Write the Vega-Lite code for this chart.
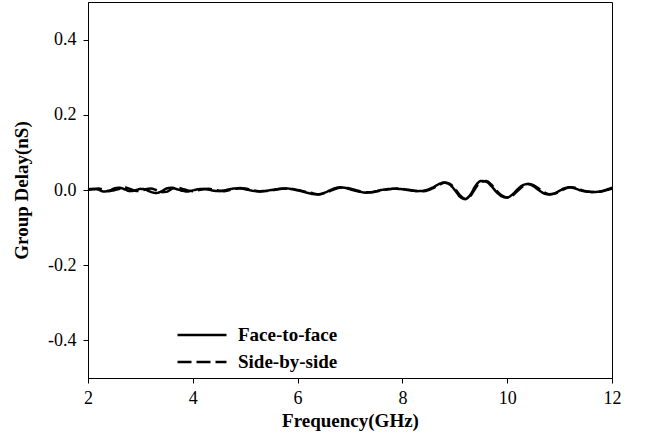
{
  "$schema": "https://vega.github.io/schema/vega-lite/v6.json",
  "autosize": {"type": "none"},
  "width": 524,
  "height": 376,
  "padding": {"left": 88, "top": 2, "right": 42, "bottom": 66},
  "background": "white",
  "config": {
    "view": {"stroke": "black", "strokeWidth": 1},
    "font": "Liberation Serif",
    "axis": {"grid": false, "domainColor": "black", "tickColor": "black", "domainWidth": 1, "tickWidth": 1, "tickSize": 5,
      "labelFont": "Liberation Serif", "labelFontSize": 18, "labelColor": "black",
      "titleFont": "Liberation Serif", "titleFontSize": 19, "titleFontWeight": "bold", "titleColor": "black"}
  },
  "data": {"values": [
    {"f":2.0,"s":"Face-to-face","d":0.002},{"f":2.1,"s":"Face-to-face","d":0.003},{"f":2.2,"s":"Face-to-face","d":0.001},{"f":2.3,"s":"Face-to-face","d":-0.004},{"f":2.4,"s":"Face-to-face","d":-0.002},
    {"f":2.5,"s":"Face-to-face","d":0.004},{"f":2.6,"s":"Face-to-face","d":0.006},{"f":2.7,"s":"Face-to-face","d":0.002},{"f":2.8,"s":"Face-to-face","d":-0.003},{"f":2.9,"s":"Face-to-face","d":-0.001},
    {"f":3.0,"s":"Face-to-face","d":0.003},{"f":3.1,"s":"Face-to-face","d":0.001},{"f":3.2,"s":"Face-to-face","d":-0.005},{"f":3.3,"s":"Face-to-face","d":-0.008},{"f":3.4,"s":"Face-to-face","d":-0.004},
    {"f":3.5,"s":"Face-to-face","d":0.004},{"f":3.6,"s":"Face-to-face","d":0.006},{"f":3.7,"s":"Face-to-face","d":0.002},{"f":3.8,"s":"Face-to-face","d":-0.002},{"f":3.9,"s":"Face-to-face","d":-0.004},
    {"f":4.0,"s":"Face-to-face","d":-0.001},{"f":4.1,"s":"Face-to-face","d":0.002},{"f":4.2,"s":"Face-to-face","d":0.003},{"f":4.3,"s":"Face-to-face","d":0.001},{"f":4.4,"s":"Face-to-face","d":-0.002},
    {"f":4.5,"s":"Face-to-face","d":-0.003},{"f":4.6,"s":"Face-to-face","d":-0.001},{"f":4.7,"s":"Face-to-face","d":0.002},{"f":4.8,"s":"Face-to-face","d":0.004},{"f":4.9,"s":"Face-to-face","d":0.004},
    {"f":5.0,"s":"Face-to-face","d":0.002},{"f":5.1,"s":"Face-to-face","d":-0.001},{"f":5.2,"s":"Face-to-face","d":-0.003},{"f":5.3,"s":"Face-to-face","d":-0.003},{"f":5.4,"s":"Face-to-face","d":-0.002},
    {"f":5.5,"s":"Face-to-face","d":0.000},{"f":5.6,"s":"Face-to-face","d":0.002},{"f":5.7,"s":"Face-to-face","d":0.004},{"f":5.8,"s":"Face-to-face","d":0.004},{"f":5.9,"s":"Face-to-face","d":0.002},
    {"f":6.0,"s":"Face-to-face","d":-0.001},{"f":6.1,"s":"Face-to-face","d":-0.004},{"f":6.2,"s":"Face-to-face","d":-0.008},{"f":6.3,"s":"Face-to-face","d":-0.011},{"f":6.4,"s":"Face-to-face","d":-0.012},
    {"f":6.5,"s":"Face-to-face","d":-0.008},{"f":6.6,"s":"Face-to-face","d":-0.002},{"f":6.7,"s":"Face-to-face","d":0.004},{"f":6.8,"s":"Face-to-face","d":0.007},{"f":6.9,"s":"Face-to-face","d":0.006},
    {"f":7.0,"s":"Face-to-face","d":0.002},{"f":7.1,"s":"Face-to-face","d":-0.002},{"f":7.2,"s":"Face-to-face","d":-0.005},{"f":7.3,"s":"Face-to-face","d":-0.007},{"f":7.4,"s":"Face-to-face","d":-0.006},
    {"f":7.5,"s":"Face-to-face","d":-0.003},{"f":7.6,"s":"Face-to-face","d":0.000},{"f":7.7,"s":"Face-to-face","d":0.002},{"f":7.8,"s":"Face-to-face","d":0.003},{"f":7.9,"s":"Face-to-face","d":0.003},
    {"f":8.0,"s":"Face-to-face","d":0.002},{"f":8.1,"s":"Face-to-face","d":0.000},{"f":8.2,"s":"Face-to-face","d":-0.002},{"f":8.3,"s":"Face-to-face","d":-0.003},{"f":8.4,"s":"Face-to-face","d":-0.002},
    {"f":8.5,"s":"Face-to-face","d":0.002},{"f":8.6,"s":"Face-to-face","d":0.008},{"f":8.7,"s":"Face-to-face","d":0.016},{"f":8.8,"s":"Face-to-face","d":0.020},{"f":8.9,"s":"Face-to-face","d":0.015},
    {"f":9.0,"s":"Face-to-face","d":0.000},{"f":9.1,"s":"Face-to-face","d":-0.018},{"f":9.2,"s":"Face-to-face","d":-0.024},{"f":9.3,"s":"Face-to-face","d":-0.012},{"f":9.4,"s":"Face-to-face","d":0.012},
    {"f":9.5,"s":"Face-to-face","d":0.024},{"f":9.6,"s":"Face-to-face","d":0.022},{"f":9.7,"s":"Face-to-face","d":0.010},{"f":9.8,"s":"Face-to-face","d":-0.006},{"f":9.9,"s":"Face-to-face","d":-0.017},
    {"f":10.0,"s":"Face-to-face","d":-0.020},{"f":10.1,"s":"Face-to-face","d":-0.012},{"f":10.2,"s":"Face-to-face","d":0.002},{"f":10.3,"s":"Face-to-face","d":0.013},{"f":10.4,"s":"Face-to-face","d":0.016},
    {"f":10.5,"s":"Face-to-face","d":0.010},{"f":10.6,"s":"Face-to-face","d":0.000},{"f":10.7,"s":"Face-to-face","d":-0.009},{"f":10.8,"s":"Face-to-face","d":-0.012},{"f":10.9,"s":"Face-to-face","d":-0.009},
    {"f":11.0,"s":"Face-to-face","d":-0.002},{"f":11.1,"s":"Face-to-face","d":0.005},{"f":11.2,"s":"Face-to-face","d":0.007},{"f":11.3,"s":"Face-to-face","d":0.004},{"f":11.4,"s":"Face-to-face","d":-0.001},
    {"f":11.5,"s":"Face-to-face","d":-0.004},{"f":11.6,"s":"Face-to-face","d":-0.005},{"f":11.7,"s":"Face-to-face","d":-0.005},{"f":11.8,"s":"Face-to-face","d":-0.004},{"f":11.9,"s":"Face-to-face","d":0.001},
    {"f":12.0,"s":"Face-to-face","d":0.006},
    {"f":2.0,"s":"Side-by-side","d":0.000},{"f":2.1,"s":"Side-by-side","d":0.002},{"f":2.2,"s":"Side-by-side","d":0.004},{"f":2.3,"s":"Side-by-side","d":0.001},{"f":2.4,"s":"Side-by-side","d":-0.003},
    {"f":2.5,"s":"Side-by-side","d":-0.001},{"f":2.6,"s":"Side-by-side","d":0.003},{"f":2.7,"s":"Side-by-side","d":0.007},{"f":2.8,"s":"Side-by-side","d":0.003},{"f":2.9,"s":"Side-by-side","d":-0.002},
    {"f":3.0,"s":"Side-by-side","d":-0.003},{"f":3.1,"s":"Side-by-side","d":0.002},{"f":3.2,"s":"Side-by-side","d":0.004},{"f":3.3,"s":"Side-by-side","d":0.000},{"f":3.4,"s":"Side-by-side","d":-0.006},
    {"f":3.5,"s":"Side-by-side","d":-0.005},{"f":3.6,"s":"Side-by-side","d":0.003},{"f":3.7,"s":"Side-by-side","d":0.006},{"f":3.8,"s":"Side-by-side","d":0.003},{"f":3.9,"s":"Side-by-side","d":-0.001},
    {"f":4.0,"s":"Side-by-side","d":-0.003},{"f":4.1,"s":"Side-by-side","d":-0.001},{"f":4.2,"s":"Side-by-side","d":0.002},{"f":4.3,"s":"Side-by-side","d":0.003},{"f":4.4,"s":"Side-by-side","d":0.001},
    {"f":4.5,"s":"Side-by-side","d":-0.002},{"f":4.6,"s":"Side-by-side","d":-0.003},{"f":4.7,"s":"Side-by-side","d":0.000},{"f":4.8,"s":"Side-by-side","d":0.003},{"f":4.9,"s":"Side-by-side","d":0.005},
    {"f":5.0,"s":"Side-by-side","d":0.004},{"f":5.1,"s":"Side-by-side","d":0.001},{"f":5.2,"s":"Side-by-side","d":-0.002},{"f":5.3,"s":"Side-by-side","d":-0.004},{"f":5.4,"s":"Side-by-side","d":-0.003},
    {"f":5.5,"s":"Side-by-side","d":-0.001},{"f":5.6,"s":"Side-by-side","d":0.001},{"f":5.7,"s":"Side-by-side","d":0.003},{"f":5.8,"s":"Side-by-side","d":0.004},{"f":5.9,"s":"Side-by-side","d":0.003},
    {"f":6.0,"s":"Side-by-side","d":0.000},{"f":6.1,"s":"Side-by-side","d":-0.003},{"f":6.2,"s":"Side-by-side","d":-0.006},{"f":6.3,"s":"Side-by-side","d":-0.009},{"f":6.4,"s":"Side-by-side","d":-0.011},
    {"f":6.5,"s":"Side-by-side","d":-0.009},{"f":6.6,"s":"Side-by-side","d":-0.004},{"f":6.7,"s":"Side-by-side","d":0.002},{"f":6.8,"s":"Side-by-side","d":0.006},{"f":6.9,"s":"Side-by-side","d":0.007},
    {"f":7.0,"s":"Side-by-side","d":0.004},{"f":7.1,"s":"Side-by-side","d":0.000},{"f":7.2,"s":"Side-by-side","d":-0.004},{"f":7.3,"s":"Side-by-side","d":-0.006},{"f":7.4,"s":"Side-by-side","d":-0.006},
    {"f":7.5,"s":"Side-by-side","d":-0.004},{"f":7.6,"s":"Side-by-side","d":-0.001},{"f":7.7,"s":"Side-by-side","d":0.001},{"f":7.8,"s":"Side-by-side","d":0.003},{"f":7.9,"s":"Side-by-side","d":0.004},
    {"f":8.0,"s":"Side-by-side","d":0.003},{"f":8.1,"s":"Side-by-side","d":0.001},{"f":8.2,"s":"Side-by-side","d":-0.001},{"f":8.3,"s":"Side-by-side","d":-0.003},{"f":8.4,"s":"Side-by-side","d":-0.003},
    {"f":8.5,"s":"Side-by-side","d":0.000},{"f":8.6,"s":"Side-by-side","d":0.006},{"f":8.7,"s":"Side-by-side","d":0.013},{"f":8.8,"s":"Side-by-side","d":0.019},{"f":8.9,"s":"Side-by-side","d":0.017},
    {"f":9.0,"s":"Side-by-side","d":0.004},{"f":9.1,"s":"Side-by-side","d":-0.014},{"f":9.2,"s":"Side-by-side","d":-0.024},{"f":9.3,"s":"Side-by-side","d":-0.016},{"f":9.4,"s":"Side-by-side","d":0.006},
    {"f":9.5,"s":"Side-by-side","d":0.022},{"f":9.6,"s":"Side-by-side","d":0.024},{"f":9.7,"s":"Side-by-side","d":0.014},{"f":9.8,"s":"Side-by-side","d":-0.002},{"f":9.9,"s":"Side-by-side","d":-0.015},
    {"f":10.0,"s":"Side-by-side","d":-0.020},{"f":10.1,"s":"Side-by-side","d":-0.015},{"f":10.2,"s":"Side-by-side","d":-0.002},{"f":10.3,"s":"Side-by-side","d":0.010},{"f":10.4,"s":"Side-by-side","d":0.016},
    {"f":10.5,"s":"Side-by-side","d":0.013},{"f":10.6,"s":"Side-by-side","d":0.004},{"f":10.7,"s":"Side-by-side","d":-0.006},{"f":10.8,"s":"Side-by-side","d":-0.011},{"f":10.9,"s":"Side-by-side","d":-0.010},
    {"f":11.0,"s":"Side-by-side","d":-0.004},{"f":11.1,"s":"Side-by-side","d":0.003},{"f":11.2,"s":"Side-by-side","d":0.007},{"f":11.3,"s":"Side-by-side","d":0.006},{"f":11.4,"s":"Side-by-side","d":0.001},
    {"f":11.5,"s":"Side-by-side","d":-0.003},{"f":11.6,"s":"Side-by-side","d":-0.005},{"f":11.7,"s":"Side-by-side","d":-0.005},{"f":11.8,"s":"Side-by-side","d":-0.003},{"f":11.9,"s":"Side-by-side","d":0.000},
    {"f":12.0,"s":"Side-by-side","d":0.004}
  ]},
  "mark": {"type": "line", "color": "black", "strokeWidth": 2.5, "interpolate": "monotone"},
  "encoding": {
    "x": {"field": "f", "type": "quantitative", "title": "Frequency(GHz)",
      "scale": {"domain": [2, 12], "nice": false, "zero": false},
      "axis": {"values": [2, 4, 6, 8, 10, 12], "labelPadding": 6, "titlePadding": 4, "labelFlush": false}},
    "y": {"field": "d", "type": "quantitative", "title": "Group Delay(nS)",
      "scale": {"domain": [-0.5, 0.5], "nice": false},
      "axis": {"values": [-0.4, -0.2, 0, 0.2, 0.4], "labelExpr": "replace(format(datum.value, '.1f'), '\u2212', '-')", "labelPadding": 7, "titlePadding": 16, "labelFlush": false}},
    "strokeDash": {"field": "s", "type": "nominal",
      "scale": {"domain": ["Face-to-face", "Side-by-side"], "range": [[1, 0], [14, 5]]},
      "legend": {"title": null, "orient": "none", "legendX": 88, "legendY": 323,
        "symbolType": "stroke", "symbolSize": 2401, "symbolStrokeWidth": 2.5, "symbolStrokeColor": "black",
        "labelFont": "Liberation Serif", "labelFontSize": 19, "labelFontWeight": "bold", "labelColor": "black",
        "labelOffset": 10, "rowPadding": 7, "clipHeight": 20, "padding": 0}}
  }
}
